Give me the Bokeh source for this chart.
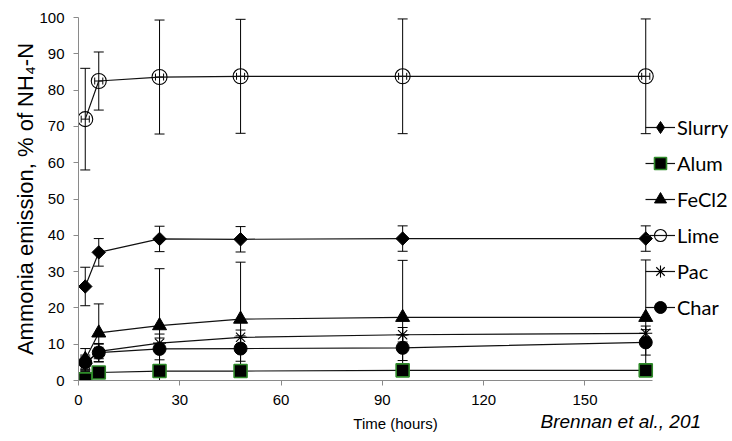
import numpy as np
from bokeh.plotting import figure
from bokeh.models import (ColumnDataSource, Whisker, TeeHead, Legend, LegendItem,
                          Label, FixedTicker, Range1d)
from bokeh.embed import file_html
from bokeh.resources import INLINE

# ---- data ----
hours = [2, 6, 24, 48, 96, 168]
slurry = [25.9, 35.3, 39.0, 38.9, 39.1, 39.1]
slurry_err = [5.3, 3.8, 3.5, 3.5, 3.5, 3.5]
alum = [0.3, 2.2, 2.6, 2.6, 2.8, 2.8]
alum_err = [0.5, 1.0, 1.2, 1.2, 1.2, 1.2]
fecl2 = [5.8, 13.1, 15.1, 16.9, 17.4, 17.4]
fecl2_err = [3.0, 8.0, 15.7, 15.7, 15.7, 15.8]
lime = [72.0, 82.5, 83.6, 83.8, 83.8, 83.8]
lime_err = [14.0, 8.0, 15.7, 15.7, 15.8, 15.8]
lime_xerr = [1.2, 1.2, 1.2, 1.2, 1.2, 1.2]
pac = [4.5, 8.0, 10.3, 11.9, 12.6, 13.0]
pac_err = [2.0, 2.0, 2.5, 2.0, 2.0, 2.0]
char = [5.0, 7.7, 8.7, 8.8, 9.0, 10.5]
char_err = [2.0, 2.5, 3.0, 3.5, 3.5, 3.5]

series_names = ["Slurry", "Alum", "FeCl2", "Lime", "Pac", "Char"]
y_ticks = [0, 10, 20, 30, 40, 50, 60, 70, 80, 90, 100]
x_ticks = [0, 30, 60, 90, 120, 150]
x_axis_span = (0, 170)

# frame runs to the right canvas edge so the legend is not clipped;
# the axis line itself is bounded to 0..170 h
p = figure(width=732, height=441, output_backend="svg", toolbar_location=None,
           x_range=Range1d(0, 170 * 654 / 574), y_range=Range1d(0, 100),
           min_border_left=78, min_border_right=0, min_border_top=17, min_border_bottom=61)
p.grid.visible = False
p.outline_line_color = None
p.background_fill_color = "white"
p.border_fill_color = "white"

axis_gray = "#8a8a8a"
for ax in (p.xaxis[0], p.yaxis[0]):
    ax.axis_line_color = axis_gray
    ax.major_tick_line_color = axis_gray
    ax.minor_tick_line_color = None
    ax.major_tick_in = 0
    ax.major_tick_out = 5
    ax.major_label_text_font = "Liberation Sans"
    ax.major_label_text_font_size = "15px"
    ax.major_label_text_color = "black"
    ax.major_label_standoff = 9

p.xaxis.bounds = x_axis_span
p.xaxis.ticker = FixedTicker(ticks=x_ticks)
p.yaxis.ticker = FixedTicker(ticks=y_ticks)
p.yaxis.axis_label = "Ammonia emission, % of NH\u2084-N"
p.yaxis.axis_label_text_font = "Liberation Sans"
p.yaxis.axis_label_text_font_size = "22px"
p.yaxis.axis_label_text_font_style = "normal"
p.yaxis.axis_label_text_color = "black"
p.yaxis.axis_label_standoff = -2

line_color = "#111111"


def add_err(y, err):
    src = ColumnDataSource(dict(x=hours,
                                lo=[a - b for a, b in zip(y, err)],
                                hi=[a + b for a, b in zip(y, err)]))
    w = Whisker(source=src, base="x", lower="lo", upper="hi", dimension="height",
                line_color="black", line_width=1,
                upper_head=TeeHead(size=10, line_color="black", line_width=1),
                lower_head=TeeHead(size=10, line_color="black", line_width=1))
    p.add_layout(w)


add_err(lime, lime_err)
add_err(slurry, slurry_err)
add_err(fecl2, fecl2_err)
add_err(pac, pac_err)
add_err(char, char_err)
add_err(alum, alum_err)

# small horizontal error bars of Lime
lsrc = ColumnDataSource(dict(y=lime,
                             lo=[a - b for a, b in zip(hours, lime_xerr)],
                             hi=[a + b for a, b in zip(hours, lime_xerr)]))
p.add_layout(Whisker(source=lsrc, base="y", lower="lo", upper="hi", dimension="width",
                     line_color="black", line_width=1,
                     upper_head=TeeHead(size=7, line_color="black", line_width=1),
                     lower_head=TeeHead(size=7, line_color="black", line_width=1)))

items = []


def add_series(name, y, marker, size, fill, lc="black", lw=1.0, angle=0.0, legend_marker=None):
    src = ColumnDataSource(dict(x=hours, y=y))
    ln = p.line("x", "y", source=src, line_color=line_color, line_width=1.2)
    sc = p.scatter("x", "y", source=src, marker=marker, size=size,
                   fill_color=fill, line_color=lc, line_width=lw, angle=angle)
    rends = [ln, sc]
    if legend_marker is not None:
        # legend-only proxy: same data, hidden in the plot itself
        proxy = p.scatter("x", "y", source=src, marker=legend_marker[0],
                          size=legend_marker[1], fill_color=fill, line_color=lc,
                          line_width=lw, visible=False)
        rends = [ln, proxy]
    items.append(LegendItem(label=name, renderers=rends))


add_series(series_names[0], slurry, "square", 9.5, "black", angle=np.pi / 4,
           legend_marker=("diamond", 16))
add_series(series_names[1], alum, "square", 13, "black", lc="#2f8a2a", lw=1.6)
add_series(series_names[2], fecl2, "triangle", 14, "black")
add_series(series_names[3], lime, "circle", 15, None, lc="black", lw=1.1)
add_series(series_names[4], pac, "asterisk", 13, None, lc="black", lw=1.1)
add_series(series_names[5], char, "circle", 13, "black")

legend = Legend(items=items, location=(567, 57), orientation="vertical",
                glyph_width=30, glyph_height=32, spacing=4, padding=0, margin=0,
                label_standoff=2, label_text_font="Lato", label_text_font_size="20px",
                label_text_color="black", label_height=20,
                border_line_color=None, background_fill_alpha=0.0)
p.add_layout(legend, "center")

p.add_layout(Label(x=317, y=-397, x_units="screen", y_units="screen",
                   text="Time (hours)", text_align="center", text_baseline="top",
                   text_font="Liberation Sans", text_font_size="15px", text_color="black"), "above")
p.add_layout(Label(x=462, y=18, x_units="screen", y_units="screen",
                   text="Brennan et al., 201", text_align="left", text_baseline="top",
                   text_font="Liberation Sans", text_font_size="19px",
                   text_font_style="italic", text_color="black"), "below")

open("out.html", "w").write(file_html(p, INLINE))
